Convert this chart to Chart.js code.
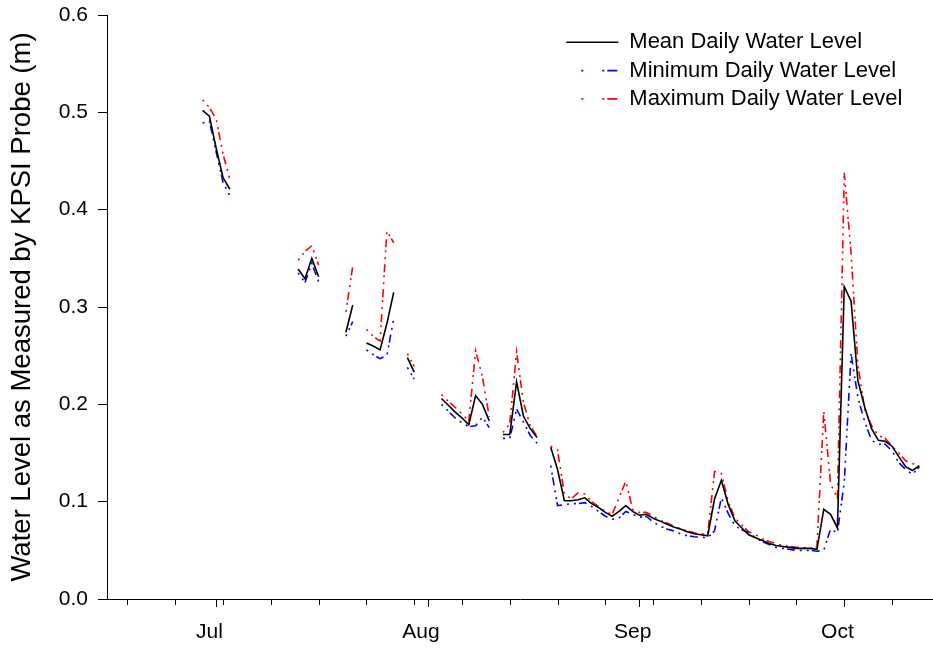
<!DOCTYPE html>
<html>
<head>
<meta charset="utf-8">
<title>KPSI probe water level</title>
<script src="https://cdn.jsdelivr.net/npm/chart.js@4.4.1/dist/chart.umd.min.js"></script>
<style>
  html, body { margin: 0; padding: 0; background: #fff; }
  #wrap { width: 933px; height: 649px; }
</style>
</head>
<body>
<div id="wrap"><canvas id="level" width="933" height="649"></canvas></div>
<script>
'use strict';

// ── Data: one value per day, day 0 = Jul 1 (first value is Jun 29) ──
const FIRST_DAY = -2;

const meanLevel = [
  0.502, 0.496, 0.463, 0.433, 0.421,
  null, null, null, null, null, null, null, null, null,
  0.339, 0.329, 0.350, 0.331,
  null, null, null,
  0.274, 0.302,
  null,
  0.263, 0.260, 0.256, 0.283, 0.315,
  null,
  0.248, 0.233,
  null, null, null,
  0.206, 0.199, 0.192, 0.186, 0.179, 0.209, 0.200, 0.183,
  null,
  0.169, 0.169, 0.223, 0.188, 0.175, 0.166,
  null,
  0.156, 0.133, 0.101, 0.101, 0.102, 0.104, 0.098, 0.094, 0.089, 0.085,
  0.090, 0.096, 0.090, 0.086, 0.087, 0.083, 0.080, 0.077, 0.074, 0.072,
  0.069, 0.067, 0.066, 0.065, 0.103, 0.122, 0.097, 0.080, 0.073, 0.066,
  0.063, 0.060, 0.057, 0.055, 0.054, 0.053, 0.052, 0.052, 0.052, 0.051,
  0.092, 0.087, 0.073, 0.321, 0.306, 0.224, 0.197, 0.175, 0.163, 0.162,
  0.157, 0.146, 0.136, 0.132, 0.137,
];

const minLevel = [
  0.489, 0.491, 0.459, 0.428, 0.414,
  null, null, null, null, null, null, null, null, null,
  0.335, 0.325, 0.345, 0.326,
  null, null, null,
  0.270, 0.285,
  null,
  0.256, 0.251, 0.247, 0.250, 0.288,
  null,
  0.238, 0.226,
  null, null, null,
  0.200, 0.193, 0.186, 0.181, 0.177, 0.178, 0.187, 0.176,
  null,
  0.165, 0.165, 0.195, 0.182, 0.168, 0.160,
  null,
  0.137, 0.096, 0.097, 0.098, 0.098, 0.099, 0.095, 0.090, 0.085, 0.082,
  0.083, 0.090, 0.087, 0.084, 0.085, 0.079, 0.075, 0.072, 0.070, 0.067,
  0.065, 0.064, 0.0635, 0.063, 0.070, 0.104, 0.088, 0.075, 0.071, 0.068,
  0.063, 0.059, 0.056, 0.053, 0.052, 0.051, 0.050, 0.050, 0.050, 0.049,
  0.050, 0.072, 0.068, 0.120, 0.252, 0.207, 0.182, 0.163, 0.159, 0.159,
  0.152, 0.140, 0.133, 0.128, 0.136,
];

const maxLevel = [
  0.513, 0.505, 0.493, 0.457, 0.431,
  null, null, null, null, null, null, null, null, null,
  0.348, 0.357, 0.363, 0.343,
  null, null, null,
  0.295, 0.342,
  null,
  0.277, 0.270, 0.265, 0.378, 0.366,
  null,
  0.252, 0.239,
  null, null, null,
  0.210, 0.203, 0.197, 0.190, 0.183, 0.255, 0.228, 0.187,
  null,
  0.171, 0.180, 0.254, 0.202, 0.178, 0.167,
  null,
  0.157, 0.153, 0.108, 0.103, 0.109, 0.108, 0.100, 0.095, 0.090, 0.087,
  0.104, 0.121, 0.092, 0.089, 0.089, 0.085, 0.081, 0.078, 0.075, 0.072,
  0.070, 0.068, 0.067, 0.067, 0.131, 0.129, 0.100, 0.083, 0.076, 0.069,
  0.066, 0.062, 0.059, 0.057, 0.055, 0.054, 0.053, 0.053, 0.052, 0.054,
  0.193, 0.118, 0.104, 0.438, 0.355, 0.240, 0.195, 0.178, 0.168, 0.165,
  0.157, 0.150, 0.142, 0.139, 0.139,
];

// ── Axis ticks (days from Jul 1) ──
const monthLabels     = ['Jul', 'Aug', 'Sep', 'Oct'];
const monthLabelDays  = [-1, 30, 61, 91];
const monthStartDays  = [0, 31, 62, 92];
const weekTickDays    = [-13, -6, 1, 8, 15, 22, 29, 36, 43, 50, 57, 64, 71, 78, 85, 92, 99];
const levelTicks      = [0, 0.1, 0.2, 0.3, 0.4, 0.5, 0.6];

const FONT = "'Liberation Sans', Arial, Helvetica, sans-serif";
const DASH_DATA   = [2, 5, 2, 3, 8, 5];
const DASH_LEGEND = [2, 19, 2, 3, 10, 15];

const toPoints = arr => arr.map((v, i) => ({ x: FIRST_DAY + i, y: v }));

// ── Minor (weekly) and major (month) tick marks under the x axis ──
const xTickMarks = {
  id: 'xTickMarks',
  afterDraw(chart) {
    const { ctx, chartArea } = chart;
    const x = chart.scales.x;
    const y0 = chartArea.bottom;
    ctx.save();
    ctx.strokeStyle = '#000';
    ctx.lineWidth = 1;
    ctx.beginPath();
    weekTickDays.forEach(d => {
      const px = Math.round(x.getPixelForValue(d)) + 0.5;
      ctx.moveTo(px, y0); ctx.lineTo(px, y0 + 6);
    });
    monthStartDays.forEach(d => {
      const px = Math.round(x.getPixelForValue(d)) + 0.5;
      ctx.moveTo(px, y0); ctx.lineTo(px, y0 + 8);
    });
    ctx.stroke();
    ctx.restore();
  },
};

// ── Move the in-plot legend to the upper right ──
const legendPlacement = {
  id: 'legendPlacement',
  afterLayout(chart) {
    const lg = chart.legend;
    if (!lg) return;
    const w = lg.width, h = lg.height;
    lg.left = chart.chartArea.right - 373;
    lg.top = chart.chartArea.top + 10;
    lg.right = lg.left + w;
    lg.bottom = lg.top + h;
  },
};

new Chart(document.getElementById('level'), {
  type: 'line',
  data: {
    datasets: [
      {
        label: 'Mean Daily Water Level',
        data: toPoints(meanLevel),
        borderColor: '#000000',
        backgroundColor: '#000000',
        borderWidth: 1.6,
      },
      {
        label: 'Minimum Daily Water Level',
        data: toPoints(minLevel),
        borderColor: '#0000ff',
        backgroundColor: '#0000ff',
        borderWidth: 1.6,
        borderDash: DASH_DATA,
      },
      {
        label: 'Maximum Daily Water Level',
        data: toPoints(maxLevel),
        borderColor: '#ff0000',
        backgroundColor: '#ff0000',
        borderWidth: 1.6,
        borderDash: DASH_DATA,
      },
    ],
  },
  options: {
    responsive: false,
    animation: false,
    devicePixelRatio: 1,
    spanGaps: false,
    elements: {
      point: { radius: 0, hoverRadius: 0 },
      line: { tension: 0, fill: false },
    },
    layout: { padding: { top: 15, right: 0, bottom: 0, left: 0 } },
    scales: {
      x: {
        type: 'linear',
        min: -16,
        max: 105,
        bounds: 'data',
        afterBuildTicks: s => { s.ticks = monthLabelDays.map(v => ({ value: v })); },
        afterFit: s => { s.height = 50; s.paddingLeft = 0; s.paddingRight = 0; },
        grid: { display: true, drawOnChartArea: false, drawTicks: false },
        border: { display: true, color: '#000', width: 1 },
        ticks: {
          autoSkip: false,
          maxRotation: 0,
          padding: 21,
          color: '#000',
          font: { family: FONT, size: 21 },
          callback: (v, i) => monthLabels[i],
        },
      },
      y: {
        min: 0,
        max: 0.6,
        afterBuildTicks: s => { s.ticks = levelTicks.map(v => ({ value: v })); },
        afterFit: s => { s.width = 107; s.paddingTop = 0; s.paddingBottom = 0; },
        grid: { display: true, drawOnChartArea: false, drawTicks: true, tickLength: 9, color: '#000' },
        border: { display: true, color: '#000', width: 1 },
        ticks: {
          padding: 10,
          color: '#000',
          font: { family: FONT, size: 21 },
          callback: v => Number(v).toFixed(1),
        },
        title: {
          display: true,
          text: 'Water Level as Measured by KPSI Probe (m)',
          color: '#000',
          font: { family: FONT, size: 27.5 },
          padding: { top: 6, bottom: 0 },
        },
      },
    },
    plugins: {
      tooltip: { enabled: false },
      legend: {
        position: 'chartArea',
        align: 'start',
        labels: {
          usePointStyle: true,
          pointStyleWidth: 52,
          padding: 6.3,
          color: '#000',
          font: { family: FONT, size: 22 },
          generateLabels: chart => chart.data.datasets.map((ds, i) => ({
            text: ds.label,
            fillStyle: ds.borderColor,
            strokeStyle: ds.borderColor,
            fontColor: '#000',
            lineWidth: ds.borderWidth,
            lineDash: ds.borderDash ? DASH_LEGEND : [],
            lineDashOffset: ds.borderDash ? 36 : 0,
            pointStyle: 'line',
            hidden: false,
            datasetIndex: i,
          })),
        },
      },
    },
  },
  plugins: [xTickMarks, legendPlacement],
});
</script>
</body>
</html>
